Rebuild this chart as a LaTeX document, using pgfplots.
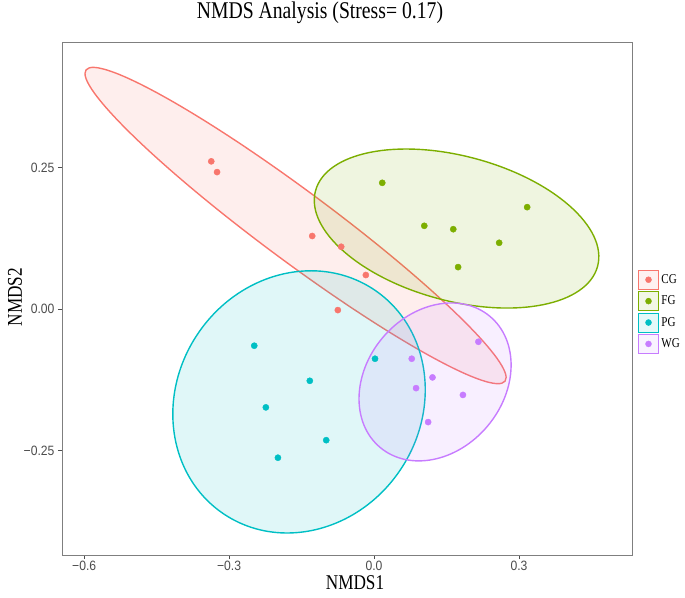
\documentclass[border=0pt]{standalone}
\usepackage{pgfplots}
\pgfplotsset{compat=1.18}
\usepackage{fontspec}
\setmainfont[FakeStretch=0.82]{Liberation Serif}
\newfontfamily\tickfont[FakeStretch=0.9]{Liberation Sans}
\definecolor{cgc}{HTML}{F8766D}
\definecolor{fgc}{HTML}{7CAE00}
\definecolor{pgc}{HTML}{00BFC4}
\definecolor{wgc}{HTML}{C77CFF}
\definecolor{axgray}{HTML}{4D4D4D}
\definecolor{bordergray}{HTML}{7F7F7F}
\begin{document}
\begin{tikzpicture}
\path[use as bounding box] (0,0) rectangle (685pt,597pt);
\begin{axis}[
  at={(62pt,42pt)}, anchor=south west,
  scale only axis, width=570pt, height=513pt,
  xmin=-0.646, xmax=0.534, ymin=-0.435, ymax=0.472,
  axis line style={draw=bordergray, line width=0.9pt},
  xtick={-0.6,-0.3,0,0.3},
  xticklabels={−0.6,−0.3,0.0,0.3},
  ytick={-0.25,0,0.25},
  yticklabels={−0.25,0.00,0.25},
  xtick pos=bottom, ytick pos=left,
  tick align=outside, major tick length=4pt,
  tick style={draw=axgray, line width=0.8pt},
  minor tick num=0,
  ticklabel style={font=\tickfont\fontsize{13.5}{13.5}\selectfont, text=axgray},
  xticklabel style={yshift=1pt},
  legend style={at={(1.005,0.474)}, anchor=west, draw=none, fill=none,
    font=\fontsize{13.5}{13.5}\selectfont, row sep=1.5pt,
    nodes={inner sep=2.5pt}},
  legend cell align=left,
]
% ellipses (95% data ellipses, drawn in paper units)
\draw[cgc, line width=1.4pt, fill=cgc, fill opacity=0.12,
  rotate around={-36.6:(axis cs:-0.1625,0.1475)}]
  (axis cs:-0.1625,0.1475) ellipse [x radius=261pt, y radius=35pt];
\draw[fgc, line width=1.4pt, fill=fgc, fill opacity=0.12,
  rotate around={-15:(axis cs:0.1708,0.1422)}]
  (axis cs:0.1708,0.1422) ellipse [x radius=146pt, y radius=72.4pt];
\draw[pgc, line width=1.4pt, fill=pgc, fill opacity=0.12,
  rotate around={56:(axis cs:-0.1553,-0.1643)}]
  (axis cs:-0.1553,-0.1643) ellipse [x radius=135pt, y radius=122pt];
\draw[wgc, line width=1.4pt, fill=wgc, fill opacity=0.12,
  rotate around={50:(axis cs:0.1263,-0.129)}]
  (axis cs:0.1263,-0.129) ellipse [x radius=85.5pt, y radius=68.6pt];

\addplot[cgc, only marks, mark=*, mark size=3.1pt, mark options={draw=cgc, fill=cgc},
  legend image code/.code={\draw[draw=cgc, fill=cgc!10, line width=0.9pt] (0pt,-9.5pt) rectangle (20pt,9.5pt); \fill[cgc] (10pt,0pt) circle (3pt);}]
  coordinates {(-0.337,0.261) (-0.325,0.242) (-0.128,0.129) (-0.068,0.110) (-0.017,0.060) (-0.075,-0.002)};
\addlegendentry{CG}
\addplot[fgc, only marks, mark=*, mark size=3.1pt, mark options={draw=fgc, fill=fgc},
  legend image code/.code={\draw[draw=fgc, fill=fgc!10, line width=0.9pt] (0pt,-9.5pt) rectangle (20pt,9.5pt); \fill[fgc] (10pt,0pt) circle (3pt);}]
  coordinates {(0.017,0.223) (0.104,0.147) (0.164,0.141) (0.317,0.180) (0.259,0.117) (0.174,0.074)};
\addlegendentry{FG}
\addplot[pgc, only marks, mark=*, mark size=3.1pt, mark options={draw=pgc, fill=pgc},
  legend image code/.code={\draw[draw=pgc, fill=pgc!10, line width=0.9pt] (0pt,-9.5pt) rectangle (20pt,9.5pt); \fill[pgc] (10pt,0pt) circle (3pt);}]
  coordinates {(-0.248,-0.065) (-0.133,-0.127) (-0.224,-0.174) (-0.099,-0.232) (-0.199,-0.263) (0.002,-0.088)};
\addlegendentry{PG}
\addplot[wgc, only marks, mark=*, mark size=3.1pt, mark options={draw=wgc, fill=wgc},
  legend image code/.code={\draw[draw=wgc, fill=wgc!10, line width=0.9pt] (0pt,-9.5pt) rectangle (20pt,9.5pt); \fill[wgc] (10pt,0pt) circle (3pt);}]
  coordinates {(0.078,-0.088) (0.121,-0.121) (0.087,-0.140) (0.184,-0.152) (0.112,-0.200) (0.216,-0.058)};
\addlegendentry{WG}
\end{axis}
\node[font=\fontsize{24}{24}\selectfont] at (320pt,584pt) {NMDS Analysis (Stress= 0.17)};
\node[font=\fontsize{21}{21}\selectfont] at (355pt,14pt) {NMDS1};
\node[font=\fontsize{21}{21}\selectfont, rotate=90] at (15pt,300pt) {NMDS2};
\end{tikzpicture}
\end{document}
